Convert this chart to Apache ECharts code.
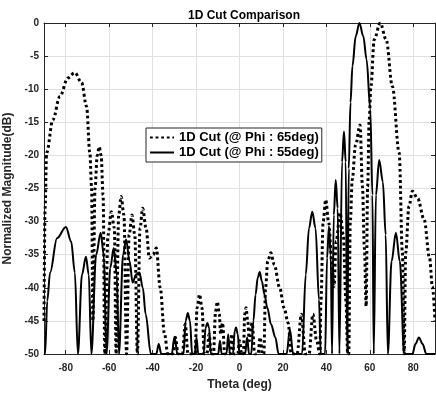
<!DOCTYPE html>
<html>
<head>
<meta charset="utf-8">
<script src="https://cdn.jsdelivr.net/npm/echarts@6/dist/echarts.min.js"></script>
<style>
html, body { margin: 0; padding: 0; background: #fff; }
#chart { width: 436px; height: 394px; }
</style>
</head>
<body>
<div id="chart"></div>
<script>
// tick positions
var xTicks = [-80, -60, -40, -20, 0, 20, 40, 60, 80];
var yTicks = [-50, -45, -40, -35, -30, -25, -20, -15, -10, -5, 0];

// 1D cut @ phi 65deg (dotted), [theta, dB]
var phi65 = [
  [-90, -45], [-89.5, -28], [-88.8, -19.6], [-85.9, -14.6], [-82.7, -11.1], [-79, -8.3], [-75.8, -7.5],
  [-72.7, -9], [-70.4, -12.6], [-68.9, -19.6], [-68.1, -24.7], [-67.5, -45],
  [-66.5, -25], [-65.5, -20], [-64.6, -18.7], [-63.7, -20], [-62.8, -26], [-62, -50],
  [-60.5, -32], [-59, -28.5], [-57.6, -31], [-56.8, -50],
  [-55.6, -29], [-54.5, -26.2], [-53.2, -29], [-52, -50],
  [-50.8, -32], [-49.5, -29], [-48.2, -32], [-47, -50],
  [-45.8, -31], [-44.6, -28], [-43, -31], [-41.5, -35.5], [-39.8, -35], [-38.3, -34], [-36.5, -40], [-34.5, -47], [-33, -50],
  [-30.8, -50], [-29.5, -47.5], [-28.3, -50],
  [-26.3, -50], [-25, -45.5], [-23.7, -50],
  [-20.5, -50], [-19.5, -43], [-18.4, -41], [-17.3, -43], [-16.2, -50],
  [-15, -50], [-14, -47], [-13, -50],
  [-12, -50], [-11, -43.5], [-10.2, -42.1], [-9.3, -44], [-8.7, -47], [-7.8, -45.3], [-6.8, -50],
  [-4.5, -50], [-3.5, -47], [-2.5, -50],
  [-0.8, -50], [0, -48], [1, -50],
  [1.8, -50], [2.4, -44], [3, -43], [3.8, -45], [4.5, -48], [5.8, -45.3], [7, -50],
  [8.5, -50], [9.5, -47.5], [10.5, -50],
  [11.2, -50], [12, -40], [13, -36], [14.4, -34.7], [16, -36.5], [18.5, -40], [20.5, -43], [22.4, -45.3], [23.8, -50],
  [26.5, -50], [28.5, -44], [30.3, -50],
  [32, -50], [33.8, -44], [35.5, -48], [37, -50],
  [37.5, -42], [38.5, -30], [39.7, -26.7], [41, -30], [42.5, -36], [43.5, -39.8], [44.5, -33], [46.3, -28.7], [47.8, -32], [49, -42], [49.8, -50],
  [50.3, -50], [51, -30], [51.9, -23.7], [53.4, -18.5], [55.5, -15.4], [56.6, -24.7], [57.5, -34], [58.3, -42.8],
  [59, -24.7], [59.7, -14.6], [60.5, -9.6], [62, -2.5], [64.8, 0], [67.5, -2.5], [70.4, -9.6], [73.5, -19.6], [75, -34.7], [75.8, -50],
  [76.5, -34.7], [78, -27.7], [79.6, -25.4], [82, -26.5], [85, -29.7], [87.5, -35.5], [88.8, -39.8], [90, -45]
];

// 1D cut @ phi 55deg (solid), [theta, dB]
var phi55 = [
  [-90, -50], [-89.5, -50], [-88.5, -42], [-87.2, -37.7], [-84, -32.5], [-79.9, -30.8], [-77.5, -33], [-75.8, -37.7], [-74.4, -50],
  [-72.5, -38], [-70.7, -35.3], [-69.4, -38], [-68.2, -50],
  [-66, -35], [-63.9, -31.7], [-62.5, -35], [-61.2, -50],
  [-59.5, -37], [-57.9, -34], [-56.5, -38], [-55.5, -50],
  [-53.6, -35], [-52.2, -32.7], [-50.6, -36], [-49.2, -39.2], [-47.6, -38], [-46.1, -37.7], [-44.5, -40], [-43.2, -44], [-40.8, -50],
  [-38.3, -50], [-37.2, -48.5], [-36, -50],
  [-31.2, -50], [-29.9, -47.4], [-28.6, -50],
  [-25.8, -50], [-24.8, -45], [-23.8, -43.8], [-22.8, -45], [-21.8, -50],
  [-20.6, -50], [-19.8, -47.5], [-19, -50],
  [-16.5, -50], [-15.6, -46], [-14.8, -45.3], [-14, -46], [-13.2, -50],
  [-9.8, -50], [-9, -48], [-8.2, -50],
  [-6, -50], [-5.2, -47], [-4.4, -50],
  [-3, -50], [-2.2, -46.5], [-1.6, -46], [-0.8, -47], [0, -50],
  [2.6, -50], [3.5, -47.5], [4.4, -50],
  [5.4, -50], [6.4, -45], [7.4, -41], [8.4, -38.5], [9.3, -37.6], [10.3, -39], [11.5, -41], [12.8, -43], [14.5, -45.5], [16.5, -47.5], [18, -50],
  [21.7, -50], [23.2, -46.3], [24.7, -50],
  [28.8, -50], [30.5, -38], [32, -31], [33.5, -28.5], [35, -31], [36.6, -41.8], [37.4, -50],
  [39.4, -50], [40.3, -35.5], [41.2, -30.7], [42, -35], [42.6, -50],
  [43.4, -29], [44.3, -23.7], [45.2, -28], [46, -50],
  [47.2, -21], [48.1, -16.4], [48.9, -21], [49.6, -50],
  [50.3, -22], [51.1, -12], [52, -6.5], [53.5, -2], [55.2, 0], [57, -2], [58.5, -5.5], [60.2, -13], [61.2, -26], [61.8, -50],
  [62.8, -26], [64.3, -20.7], [66, -24], [67.3, -32], [68.3, -50],
  [70, -36], [72, -31.7], [73.8, -36], [75.8, -50],
  [79.6, -50], [81, -48.5], [82.6, -47.5], [84.3, -48.5], [86, -50], [90, -50]
];

var legendNames = ['1D Cut (@ Phi : 65deg)', '1D Cut (@ Phi : 55deg)'];

var axisColor = '#262626';
var gridColor = '#e0e0e0';
var font = 'Liberation Sans, Arial, sans-serif';

var myChart = echarts.init(document.getElementById('chart'));

var option = {
    animation: false,
    title: {
        text: '1D Cut Comparison',
        left: 183,
        top: 5,
        textStyle: { fontFamily: font, fontSize: 12, fontWeight: 'bold', color: '#000' }
    },
    legend: {
        data: legendNames,
        orient: 'vertical',
        left: 146,
        top: 128,
        itemWidth: 24,
        itemHeight: 12,
        itemGap: 2,
        padding: [3, 3, 3, 3],
        backgroundColor: '#fff',
        borderColor: axisColor,
        borderWidth: 1,
        borderRadius: 0,
        itemStyle: { opacity: 0 },
        textStyle: { fontFamily: font, fontSize: 13, fontWeight: 'bold', color: '#000' }
    },
    grid: { left: 44, right: 1, top: 23, bottom: 40, outerBoundsMode: 'none', containLabel: false },
    xAxis: [{
        type: 'value',
        min: -90,
        max: 90,
        position: 'bottom',
        name: 'Theta (deg)',
        nameLocation: 'middle',
        nameGap: 25,
        nameTextStyle: { fontFamily: font, fontSize: 12, fontWeight: 'bold', color: axisColor },
        axisLine: { show: true, onZero: false, lineStyle: { color: axisColor, width: 1 } },
        axisTick: { show: true, inside: true, length: 4, customValues: xTicks, lineStyle: { color: axisColor } },
        axisLabel: { customValues: xTicks, fontFamily: font, fontSize: 10, fontWeight: 'bold', color: axisColor, margin: 9 },
        splitLine: { show: true, lineStyle: { color: gridColor, width: 1 } }
    }, {
        type: 'value',
        min: -90,
        max: 90,
        position: 'top',
        axisLine: { show: true, onZero: false, lineStyle: { color: axisColor, width: 1 } },
        axisTick: { show: true, inside: true, length: 4, customValues: xTicks, lineStyle: { color: axisColor } },
        axisLabel: { show: false },
        splitLine: { show: false }
    }],
    yAxis: [{
        type: 'value',
        min: -50,
        max: 0,
        interval: 5,
        position: 'left',
        name: 'Normalized Magnitude(dB)',
        nameLocation: 'middle',
        nameGap: 27,
        nameTextStyle: { fontFamily: font, fontSize: 12, fontWeight: 'bold', color: axisColor },
        axisLine: { show: true, onZero: false, lineStyle: { color: axisColor, width: 1 } },
        axisTick: { show: true, inside: true, length: 4, lineStyle: { color: axisColor } },
        axisLabel: { fontFamily: font, fontSize: 10, fontWeight: 'bold', color: axisColor, margin: 5 },
        splitLine: { show: true, lineStyle: { color: gridColor, width: 1 } }
    }, {
        type: 'value',
        min: -50,
        max: 0,
        interval: 5,
        position: 'right',
        axisLine: { show: true, onZero: false, lineStyle: { color: axisColor, width: 1 } },
        axisTick: { show: true, inside: true, length: 4, lineStyle: { color: axisColor } },
        axisLabel: { show: false },
        splitLine: { show: false }
    }],
    series: [{
        name: legendNames[0],
        type: 'line',
        data: phi65,
        symbol: 'none',
        smooth: 0.35,
        smoothMonotone: 'x',
        clip: true,
        lineStyle: { color: '#000', width: 3, type: [2.8, 2.8], cap: 'butt' },
        itemStyle: { color: '#000' },
        z: 3
    }, {
        name: legendNames[1],
        type: 'line',
        data: phi55,
        symbol: 'none',
        smooth: 0.35,
        smoothMonotone: 'x',
        clip: true,
        lineStyle: { color: '#000', width: 2, type: 'solid' },
        itemStyle: { color: '#000' },
        z: 4
    }]
};

myChart.setOption(option);
</script>
</body>
</html>
